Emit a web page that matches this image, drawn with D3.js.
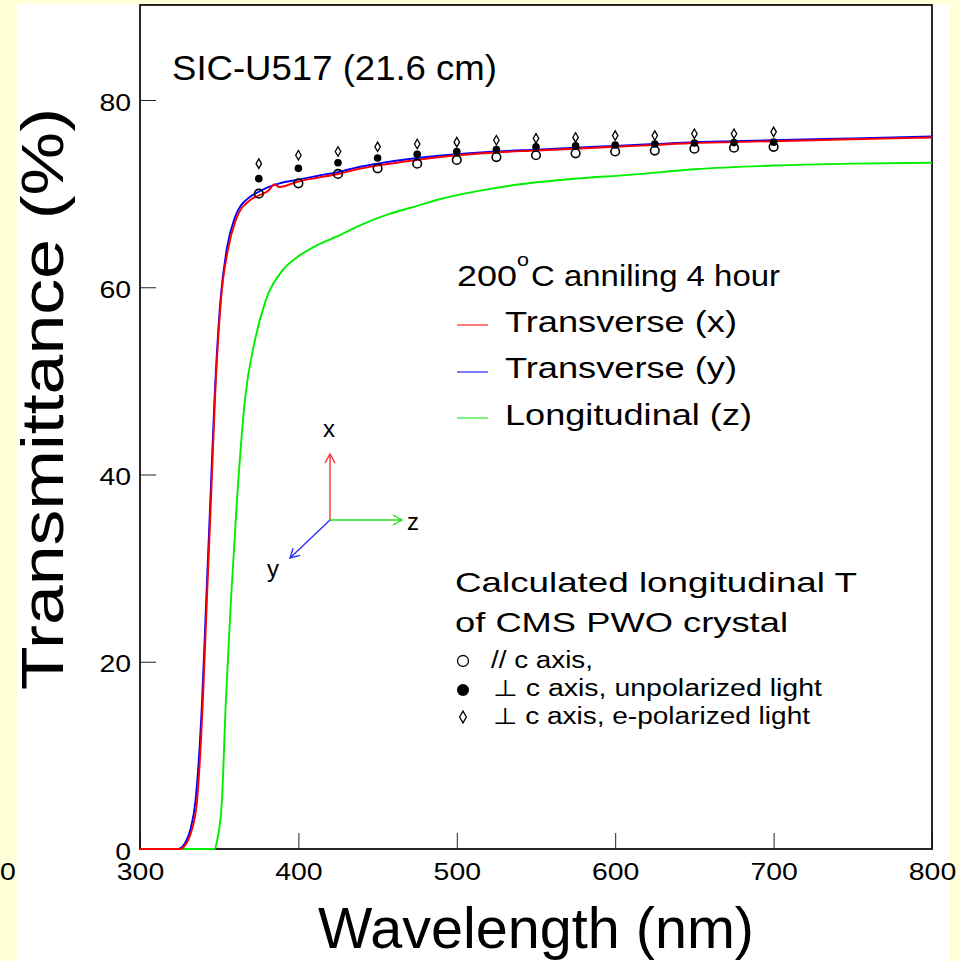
<!DOCTYPE html>
<html>
<head>
<meta charset="utf-8">
<script src="https://cdn.jsdelivr.net/npm/d3@7"></script>
<style>
  html, body { margin: 0; padding: 0; background: #ffffd8; }
  svg { display: block; }
  text { font-family: "Liberation Sans", Arial, Helvetica, sans-serif; fill: #000; }
</style>
</head>
<body>
<svg id="chart" width="960" height="961"></svg>
<script>
// ---------------- data ----------------
const xTickLabels = ["300", "400", "500", "600", "700", "800"];
const yTickLabels = ["0", "20", "40", "60", "80"];

// measured transmittance, transverse x (red)
const redWl = [300, 325, 330, 333, 336, 339.7, 342.2, 344.8, 347.3, 351.1, 355.5, 360.5, 369.4, 375, 381, 385, 388, 400, 412, 425, 437, 450, 475, 500, 525, 550, 575, 600, 625, 650, 675, 700, 725, 750, 775, 800];
const redT  = [0, 0, 0.8, 2.2, 5.1, 15.8, 26.5, 37.2, 47.9, 58.6, 64.0, 67.2, 69.3, 69.8, 70.3, 71.0, 70.7, 71.3, 71.7, 72.1, 72.6, 73.0, 73.6, 74.1, 74.4, 74.6, 74.8, 75.0, 75.2, 75.4, 75.5, 75.6, 75.7, 75.8, 75.9, 76.0];

// measured transmittance, transverse y (blue)
const blueWl = [300, 324, 329, 332, 335, 339.2, 341.8, 344.4, 347.0, 350.8, 355.0, 360.0, 369.0, 375, 381, 388, 400, 412, 425, 437, 450, 475, 500, 525, 550, 575, 600, 625, 650, 675, 700, 725, 750, 775, 800];
const blueT  = [0, 0, 0.8, 2.2, 5.1, 15.8, 26.5, 37.2, 47.9, 58.6, 64.3, 67.5, 69.6, 70.2, 70.7, 71.1, 71.5, 71.9, 72.3, 72.8, 73.2, 73.8, 74.2, 74.5, 74.7, 74.9, 75.1, 75.3, 75.5, 75.6, 75.7, 75.8, 75.9, 76.0, 76.1];

// measured transmittance, longitudinal z (green)
const greenWl = [300, 347, 349, 351.7, 354.2, 357.4, 361.2, 366.2, 372.5, 379.4, 390, 400, 412, 424, 440, 457, 475, 489, 514, 540, 575, 609, 650, 700, 750, 800];
const greenT  = [0, 0, 1.2, 5.1, 15.8, 26.5, 37.2, 47.9, 54.3, 58.6, 61.8, 63.3, 64.5, 65.4, 66.7, 67.8, 68.7, 69.4, 70.3, 71.0, 71.6, 72.0, 72.6, 73.0, 73.2, 73.3];

// calculated longitudinal T of CMS PWO crystal
const calcWl    = [375, 400, 425, 450, 475, 500, 525, 550, 575, 600, 625, 650, 675, 700];
const parC      = [70.0, 71.1, 72.1, 72.7, 73.2, 73.6, 73.9, 74.1, 74.3, 74.5, 74.6, 74.8, 74.9, 75.0];
const perpUnpol = [71.6, 72.7, 73.3, 73.8, 74.2, 74.5, 74.7, 75.0, 75.1, 75.2, 75.3, 75.4, 75.45, 75.5];
const perpEpol  = [73.2, 74.1, 74.5, 75.0, 75.3, 75.5, 75.7, 75.9, 76.0, 76.2, 76.2, 76.4, 76.4, 76.6];

const legendLines = ["Transverse (x)", "Transverse (y)", "Longitudinal (z)"];
const legendMarkers = ["// c axis,", "\u22A5 c axis, unpolarized light", "\u22A5 c axis, e-polarized light"];

// ---------------- setup ----------------
const svg = d3.select("#chart");
svg.append("rect").attr("x", 0).attr("y", 0).attr("width", 960).attr("height", 961).attr("fill", "#ffffd8");
svg.append("rect").attr("x", 17).attr("y", 4).attr("width", 933).attr("height", 957).attr("fill", "#ffffff");

const x = d3.scaleLinear().domain([300, 800]).range([140, 932]);
const y = d3.scaleLinear().domain([0, 80]).range([849, 100]);
const yTop = y(90.15);

function txt(parent, s, px, py, size, len, anchor) {
  const t = parent.append("text").attr("x", px).attr("y", py)
    .attr("font-size", size).text(s);
  if (anchor) t.attr("text-anchor", anchor);
  if (len) t.attr("textLength", len).attr("lengthAdjust", "spacingAndGlyphs");
  return t;
}

// ---------------- axes ----------------
const gx = svg.append("g").attr("transform", `translate(0,${y(0)})`);
gx.call(d3.axisBottom(x).tickValues(d3.range(300, 801, 20)).tickSize(-8).tickFormat(""));
gx.call(d3.axisBottom(x).tickValues(xTickLabels.map(Number)).tickSize(-16).tickFormat(d => d));
gx.selectAll(".domain").remove();
gx.selectAll("line").attr("stroke", "#222").attr("stroke-width", 1);
gx.selectAll("text").filter(function () { return this.textContent !== ""; })
  .attr("y", 31).attr("dy", null).attr("font-size", 24)
  .attr("font-family", '"Liberation Sans", Arial, sans-serif')
  .attr("fill", "#000")
  .each(function () { d3.select(this).attr("textLength", 15.8 * this.textContent.length).attr("lengthAdjust", "spacingAndGlyphs"); });

const gy = svg.append("g").attr("transform", `translate(${x(300)},0)`);
gy.call(d3.axisLeft(y).tickValues(d3.range(0, 88, 2.5)).tickSize(-8).tickFormat(""));
gy.call(d3.axisLeft(y).tickValues(yTickLabels.map(Number)).tickSize(-16).tickFormat(d => d));
gy.selectAll(".domain").remove();
gy.selectAll("line").attr("stroke", "#222").attr("stroke-width", 1);
gy.selectAll("text").filter(function () { return this.textContent !== ""; })
  .attr("x", -9).attr("dy", null).attr("y", 10).attr("font-size", 24)
  .attr("font-family", '"Liberation Sans", Arial, sans-serif')
  .attr("fill", "#000")
  .each(function () { d3.select(this).attr("textLength", 15.8 * this.textContent.length).attr("lengthAdjust", "spacingAndGlyphs"); });

// stray clipped label at far left
txt(svg, "0", 0, 880, 24, 15.8);

// frame
svg.append("rect").attr("x", x(300)).attr("y", yTop)
  .attr("width", x(800) - x(300)).attr("height", y(0) - yTop)
  .attr("fill", "none").attr("stroke", "#111").attr("stroke-width", 1.8);

// axis titles
txt(svg, "Wavelength (nm)", 318, 948, 57, 436);
svg.append("text").attr("transform", "translate(63,690) rotate(-90)")
  .attr("font-size", 60).attr("textLength", 582).attr("lengthAdjust", "spacingAndGlyphs")
  .text("Transmittance (%)");

// ---------------- curves ----------------
const line = d3.line().x(d => x(d[0])).y(d => y(d[1])).curve(d3.curveMonotoneX);
const plot = svg.append("g");
plot.append("path").datum(greenWl.map((w, i) => [w, greenT[i]]))
  .attr("d", line).attr("fill", "none").attr("stroke", "#00ee00").attr("stroke-width", 1.9);
plot.append("path").datum(blueWl.map((w, i) => [w, blueT[i]]))
  .attr("d", line).attr("fill", "none").attr("stroke", "#0000ff").attr("stroke-width", 1.9);
plot.append("path").datum(redWl.map((w, i) => [w, redT[i]]))
  .attr("d", line).attr("fill", "none").attr("stroke", "#ff0000").attr("stroke-width", 1.9);

// ---------------- calculated markers ----------------
plot.selectAll("circle.par").data(calcWl).join("circle").attr("class", "par")
  .attr("cx", d => x(d)).attr("cy", (d, i) => y(parC[i])).attr("r", 4.3)
  .attr("fill", "none").attr("stroke", "#000").attr("stroke-width", 1.6);
plot.selectAll("circle.unp").data(calcWl).join("circle").attr("class", "unp")
  .attr("cx", d => x(d)).attr("cy", (d, i) => y(perpUnpol[i])).attr("r", 3.8)
  .attr("fill", "#000");
const diamond = d3.symbol().type(d3.symbolDiamond).size(26);
plot.selectAll("path.ep").data(calcWl).join("path").attr("class", "ep")
  .attr("transform", (d, i) => `translate(${x(d)},${y(perpEpol[i])})`)
  .attr("d", diamond).attr("fill", "#fff").attr("stroke", "#000").attr("stroke-width", 1.3);

// ---------------- texts ----------------
txt(svg, "SIC-U517 (21.6 cm)", 172, 80, 35, 325);

// legend for curves
const leg = svg.append("g");
txt(leg, "200", 457, 286, 30, 60);
txt(leg, "o", 517, 266, 19, 12);
txt(leg, "C anniling 4 hour", 531, 286, 30, 249);
const legColors = ["#ff0000", "#0000ff", "#00ee00"];
const legLineY = [325, 372, 418];
const legTextY = [332, 378, 425];
const legLen = [232, 232, 247];
legendLines.forEach((s, i) => {
  leg.append("line").attr("x1", 457).attr("x2", 488).attr("y1", legLineY[i]).attr("y2", legLineY[i])
    .attr("stroke", legColors[i]).attr("stroke-width", 1.3).attr("opacity", 0.8);
  txt(leg, s, 505, legTextY[i], 30, legLen[i]);
});

// legend for calculated
txt(leg, "Calculated longitudinal T", 455, 592, 28, 402);
txt(leg, "of CMS PWO crystal", 455, 632, 28, 333);
const mY = [661, 690, 717];
const mTY = [668, 696, 724];
const mX = [491, 493, 493];
const mLen = [102, 329, 317];
leg.append("circle").attr("cx", 463).attr("cy", mY[0]).attr("r", 5.5).attr("fill", "none").attr("stroke", "#000").attr("stroke-width", 1.3);
leg.append("circle").attr("cx", 463).attr("cy", mY[1]).attr("r", 6).attr("fill", "#000");
leg.append("path").attr("transform", `translate(463,${mY[2]})`).attr("d", d3.symbol().type(d3.symbolDiamond).size(40))
  .attr("fill", "none").attr("stroke", "#000").attr("stroke-width", 1.3);
legendMarkers.forEach((s, i) => txt(leg, s, mX[i], mTY[i], 23, mLen[i]));

// ---------------- axis orientation sketch ----------------
const ax = svg.append("g").attr("fill", "none").attr("stroke-width", 1.4);
const o = [330, 520];
function arrow(tip, color) {
  const dx = tip[0] - o[0], dy = tip[1] - o[1];
  const L = Math.hypot(dx, dy), ux = dx / L, uy = dy / L;
  const h = 9, w = 5;
  ax.append("line").attr("x1", o[0]).attr("y1", o[1]).attr("x2", tip[0]).attr("y2", tip[1]).attr("stroke", color);
  ax.append("path").attr("stroke", color)
    .attr("d", `M${tip[0] - ux * h - uy * w},${tip[1] - uy * h + ux * w}L${tip[0]},${tip[1]}L${tip[0] - ux * h + uy * w},${tip[1] - uy * h - ux * w}`);
}
arrow([330, 454], "#ff3030");
arrow([402, 520], "#20dd20");
arrow([290, 558], "#3030ff");
txt(svg, "x", 329, 437, 24, null, "middle");
txt(svg, "z", 413, 530, 24, null, "middle");
txt(svg, "y", 273, 577, 24, null, "middle");
</script>
</body>
</html>
